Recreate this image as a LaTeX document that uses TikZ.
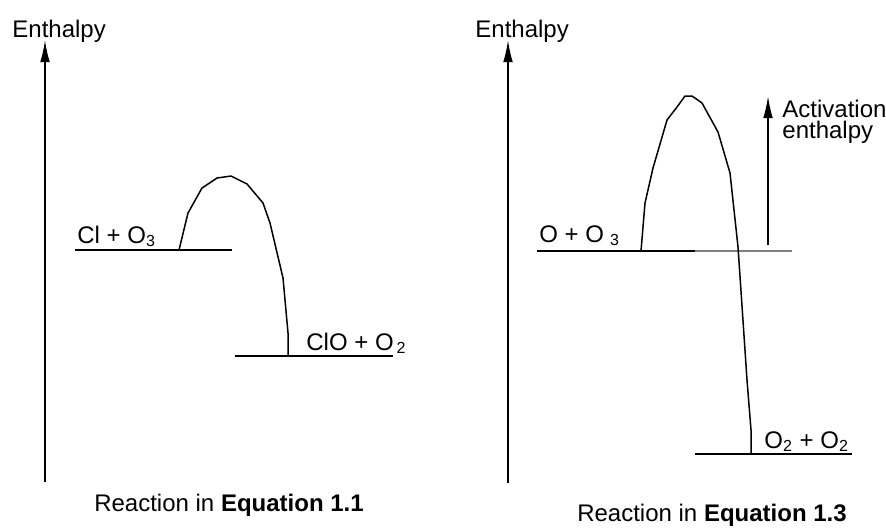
\documentclass[tikz,border=0pt]{standalone}
\usepackage{fontspec}
\setmainfont{Liberation Sans}
\usetikzlibrary{arrows.meta}

\tikzset{
  axis/.style={line width=0.8pt, -{Latex[length=11pt,width=4.8pt]}},
  level/.style={line width=0.8pt},
  hump/.style={line width=0.75pt, line join=round},
  lab/.style={inner sep=0pt, font=\fontsize{12pt}{14pt}\selectfont}
}

\begin{document}
\begin{tikzpicture}[x=0.5pt, y=-0.5pt]
      % Frame of the whole figure (pixel grid, y pointing down)
      \useasboundingbox (0,0) rectangle (886,527);

      % Enthalpy axes
      \coordinate (axL0) at (45,482);
      \coordinate (axL1) at (45,40);
      \coordinate (axR0) at (508,483);
      \coordinate (axR1) at (508,40);
      \draw[axis] (axL0) -- (axL1);
      \draw[axis] (axR0) -- (axR1);
      \node[lab, anchor=base west] (enthL) at (12,37) {Enthalpy};
      \node[lab, anchor=base west] (enthR) at (475,37) {Enthalpy};

      % Left: Cl + O3 -> ClO + O2
      \coordinate (clA) at (75,250);
      \coordinate (clB) at (232,250);
      \coordinate (cloA) at (235,356);
      \coordinate (cloB) at (393,356);
      \draw[level] (clA) -- (clB);
      \draw[level] (cloA) -- (cloB);
      \draw[hump] (179,250) -- (188,213) -- (202,188) -- (217,178) -- (231,176)
        -- (247,184) -- (263,203) -- (270,223) -- (283,278) -- (288,333) -- (288,355);
      \node[lab, anchor=base west] (react1) at (77,243) {Cl + O\textsubscript{3}};
      \node[lab, anchor=base west] (prod1) at (306,350) {ClO + O\kern.12em\textsubscript{2}};

      % Right: O + O3 -> O2 + O2
      \coordinate (oA) at (537,251);
      \coordinate (oB) at (695,251);
      \coordinate (oC) at (792,251);
      \coordinate (ooA) at (695,454);
      \coordinate (ooB) at (852,454);
      \draw[level] (oA) -- (oB);
      \draw[line width=1.4pt, black!50] (oB) -- (oC);
      \draw[level] (ooA) -- (ooB);
      \draw[hump] (641,251) -- (645,203) -- (653,168) -- (667,120) -- (677,107)
        -- (685,96) -- (692,96) -- (702,103) -- (718,132) -- (730,173)
        -- (738,247) -- (747,380) -- (751,430) -- (751,454);
      \node[lab, anchor=base west] (react2) at (539,242) {O + O\kern.25em\textsubscript{3}};
      \node[lab, anchor=base west] (prod2) at (764,448) {O\textsubscript{2} + O\textsubscript{2}};

      % Activation enthalpy arrow
      \coordinate (actA) at (768,245);
      \coordinate (actB) at (768,96);
      \draw[axis] (actA) -- (actB);
      \node[lab, anchor=base west, align=left, font=\fontsize{12pt}{10.5pt}\selectfont]
        (actlab) at (782,138) {Activation\\enthalpy};

      % Captions
      \node[lab, anchor=base] (cap1) at (229,511) {Reaction in \textbf{Equation 1.1}};
      \node[lab, anchor=base] (cap2) at (712,521) {Reaction in \textbf{Equation 1.3}};
    \end{tikzpicture}
\end{document}
